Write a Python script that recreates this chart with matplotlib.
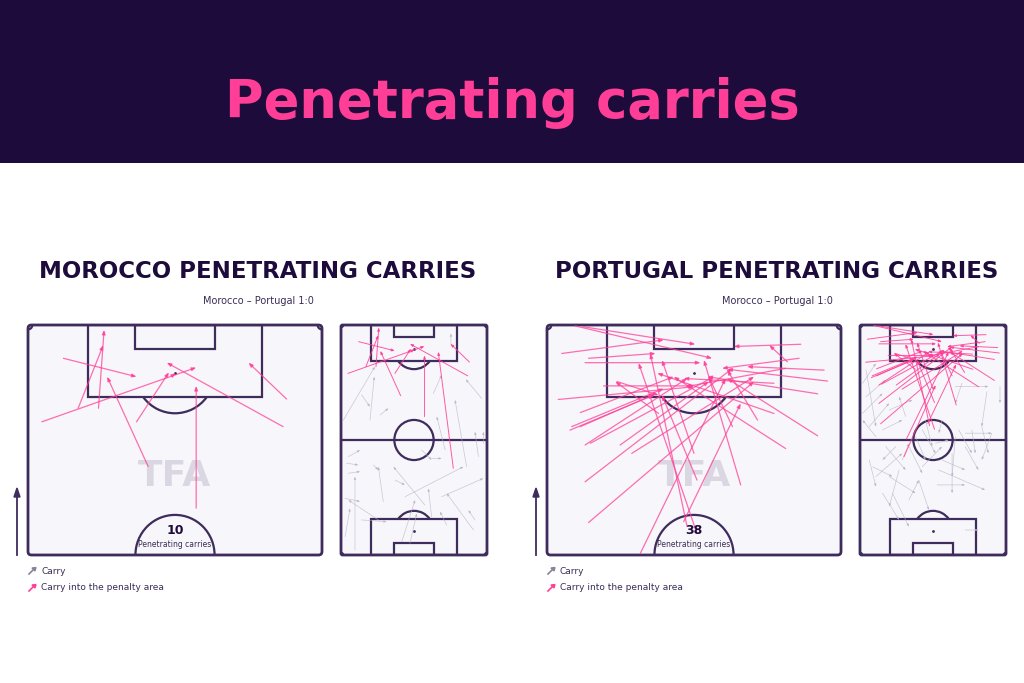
import matplotlib.pyplot as plt
from matplotlib.patches import Rectangle, Arc, FancyBboxPatch, Circle

W, H = 1024, 683
NAVY = '#1d0b3b'
PINK = '#ff3f97'
LINE = '#3e2c5c'
FACE = '#f7f6fa'
GREY = '#b8b2c6'

# carries in metres: (x_start, y_start, x_end, y_end), pitch 68 wide x 105 long, attacking upwards
mor_pen = [
    (8.2, 97.4, 25.1, 93.2), (11.6, 86.0, 17.4, 100.4), (16.3, 86.0, 17.6, 103.9),
    (3.2, 82.9, 38.9, 95.3), (27.8, 72.7, 18.3, 93.2), (25.1, 82.9, 32.6, 94.2),
    (59.0, 81.8, 32.1, 96.4), (59.8, 88.1, 51.0, 96.4), (38.9, 63.2, 38.9, 91.1),
    (33.6, 93.6, 34.2, 94.0), (52.3, 39.6, 45.3, 92.8),
]
mor_other = [
    (1.1, 61.6, 15.8, 86.0), (13.5, 61.6, 15.5, 81.4), (9.6, 73.1, 13.5, 67.7),
    (18.2, 63.9, 22.1, 67.0), (43.0, 73.8, 46.9, 82.2), (65.5, 71.5, 58.1, 80.2),
    (48.5, 47.9, 44.6, 63.2), (58.5, 40.3, 53.1, 70.8), (64.0, 44.9, 62.4, 56.3),
    (66.3, 51.0, 66.3, 56.3), (3.4, 44.9, 8.9, 47.9), (2.6, 41.9, 8.1, 41.1),
    (3.4, 37.3, 8.9, 38.1), (6.5, 2.3, 6.5, 35.8), (19.7, 24.4, 17.4, 40.3),
    (15.1, 41.1, 17.4, 38.8), (39.1, 22.8, 24.4, 40.3), (25.2, 34.2, 29.8, 32.0),
    (29.8, 26.6, 57.0, 40.3), (37.6, 47.9, 42.2, 43.4), (42.2, 44.1, 46.9, 44.1),
    (46.9, 26.6, 66.3, 35.0), (61.7, 11.4, 49.2, 28.2), (1.9, 25.9, 8.9, 24.4),
    (1.9, 8.4, 4.2, 21.3), (9.6, 16.0, 21.3, 15.2), (17.4, 16.0, 3.4, 25.1),
    (28.3, 6.1, 34.5, 25.1), (32.1, 5.3, 35.3, 19.0), (42.2, 17.5, 40.7, 30.4),
    (49.2, 13.7, 46.1, 19.8), (62.4, 16.0, 59.3, 20.5), (51.2, 95.9, 51.2, 101.2),
]
por_pen = [
    (8.4, 104.6, 34.3, 100.6), (3.4, 98.5, 27.0, 101.6), (9.6, 97.4, 25.1, 98.5),
    (8.8, 96.4, 35.5, 96.4), (6.5, 104.8, 38.2, 97.4), (58.7, 100.6, 43.2, 100.1),
    (55.6, 96.6, 51.4, 100.4), (58.3, 97.4, 40.5, 95.1), (64.9, 92.2, 41.7, 94.9),
    (62.6, 89.3, 37.1, 93.2), (55.2, 95.1, 32.0, 90.9), (62.6, 79.7, 41.7, 92.8),
    (2.6, 88.0, 34.0, 90.9), (13.1, 91.1, 34.0, 91.1), (5.7, 81.8, 27.0, 90.5),
    (7.7, 85.0, 29.3, 93.2), (5.3, 81.0, 24.7, 89.0), (8.8, 77.6, 32.4, 92.8),
    (10.0, 78.0, 38.6, 93.2), (16.9, 77.6, 37.4, 92.1), (19.6, 75.7, 47.9, 93.2),
    (8.8, 69.2, 42.9, 95.1), (9.6, 59.9, 47.9, 92.1), (21.6, 52.9, 41.3, 92.8),
    (31.6, 60.1, 44.8, 87.1), (34.7, 57.4, 21.2, 96.3), (32.4, 59.0, 23.9, 98.5),
    (44.8, 68.5, 36.3, 97.0), (55.2, 76.8, 29.3, 93.2), (52.5, 84.8, 25.5, 94.0),
    (42.9, 81.8, 37.4, 93.2), (48.7, 83.3, 41.7, 94.7), (25.8, 84.8, 15.8, 92.1),
    (34.0, 75.7, 26.6, 97.0), (34.7, 69.6, 26.6, 89.0), (7.7, 81.8, 25.1, 89.3),
    (16.2, 92.1, 25.8, 89.0), (52.5, 91.7, 31.6, 92.8), (64.1, 94.7, 46.3, 95.5),
    (20.5, 44.9, 35.2, 77.6),
]
por_other = [
    (1.2, 78.4, 7.4, 87.5), (2.8, 72.3, 12.0, 79.9), (1.2, 64.7, 10.5, 73.8),
    (4.3, 58.6, 13.6, 69.3), (7.4, 54.0, 1.2, 61.6), (10.5, 57.1, 19.7, 61.6),
    (13.6, 66.2, 24.4, 70.8), (21.3, 63.2, 18.2, 72.3), (44.4, 76.9, 59.8, 76.9),
    (47.5, 78.4, 44.4, 69.3), (59.1, 74.6, 56.7, 58.6), (65.2, 76.9, 65.2, 69.3),
    (46.0, 57.1, 52.1, 46.4), (49.0, 55.6, 61.4, 55.6), (52.1, 57.1, 53.7, 46.4),
    (56.7, 58.6, 59.8, 46.4), (44.4, 54.0, 42.9, 35.8), (38.2, 43.4, 49.0, 38.8),
    (25.9, 54.0, 30.5, 43.4), (29.0, 57.1, 35.2, 46.4), (22.8, 49.5, 29.0, 37.3),
    (35.2, 51.0, 41.3, 52.5), (12.0, 49.5, 21.3, 38.8), (5.9, 40.3, 15.1, 35.8),
    (7.4, 35.8, 19.7, 46.4), (13.6, 35.8, 25.9, 28.2), (15.1, 28.2, 22.8, 12.9),
    (10.5, 28.2, 18.2, 16.0), (22.8, 25.1, 27.4, 34.2), (27.4, 34.2, 32.1, 20.5),
    (35.9, 32.0, 49.0, 32.0), (42.9, 46.4, 42.9, 28.2), (36.7, 38.8, 58.3, 29.7),
    (49.0, 11.4, 55.2, 11.4), (4.3, 43.4, 7.4, 31.2), (18.2, 38.8, 13.6, 22.1),
    (30.5, 61.6, 33.6, 49.5), (38.2, 61.6, 36.7, 55.6), (2.8, 84.5, 7.4, 58.6),
    (61.4, 55.6, 56.7, 43.4), (49.0, 49.5, 55.2, 38.8), (19.7, 43.4, 22.8, 51.0),
    (29.0, 40.3, 38.2, 49.5), (16.7, 49.5, 10.5, 43.4),
]

teams = ['MOROCCO', 'PORTUGAL']
counts = [10, 38]
match = 'Morocco – Portugal 1:0'


def px_axes(fig, x0, y0, x1, y1):
    return fig.add_axes([x0 / W, 1 - y1 / H, (x1 - x0) / W, (y1 - y0) / H])


def draw_pitch(ax, half):
    ymin = 52.5 if half else 0
    ax.set_xlim(0, 68)
    ax.set_ylim(ymin, 105)
    ax.axis('off')
    lw = 1.6
    ax.add_patch(FancyBboxPatch((0, ymin), 68, 105 - ymin, boxstyle='round,pad=0,rounding_size=0.8',
                                fc=FACE, ec=LINE, lw=lw + 0.4, clip_on=False, zorder=0))
    ends = [105] if half else [105, 0]
    for e in ends:
        s = -1 if e == 105 else 1
        ax.add_patch(Rectangle((13.84, e), 40.32, 16.5 * s, fill=False, ec=LINE, lw=lw, zorder=1))
        ax.add_patch(Rectangle((24.84, e), 18.32, 5.5 * s, fill=False, ec=LINE, lw=lw, zorder=1))
        spot = e + 11 * s
        t1, t2 = (216.9, 323.1) if s < 0 else (36.9, 143.1)
        ax.add_patch(Arc((34, spot), 18.3, 18.3, theta1=t1, theta2=t2, ec=LINE, lw=lw, zorder=1))
        ax.plot(34, spot, 'o', ms=1, color=LINE, zorder=1)
        ax.add_patch(Arc((0, e), 2, 2, theta1=270 if s < 0 else 0, theta2=360 if s < 0 else 90,
                         ec=LINE, lw=lw, zorder=1))
        ax.add_patch(Arc((68, e), 2, 2, theta1=180 if s < 0 else 90, theta2=270 if s < 0 else 180,
                         ec=LINE, lw=lw, zorder=1))
    if half:
        ax.add_patch(Arc((34, 52.5), 18.3, 18.3, theta1=0, theta2=180, ec=LINE, lw=lw, zorder=1))
    else:
        ax.plot([0, 68], [52.5, 52.5], color=LINE, lw=lw, zorder=1)
        ax.add_patch(Circle((34, 52.5), 9.15, fill=False, ec=LINE, lw=lw, zorder=1))


def draw_carries(ax, carries, color, alpha, lw, head, zorder, min_y=None):
    for x0, y0, x1, y1 in carries:
        if min_y is not None and y0 < min_y:
            continue
        ax.annotate('', xy=(x1, y1), xytext=(x0, y0), zorder=zorder,
                    arrowprops=dict(arrowstyle='-|>,head_length=%.2f,head_width=%.2f' % (head, head * 0.4),
                                    color=color, alpha=alpha, lw=lw, shrinkA=0, shrinkB=0))


fig = plt.figure(figsize=(W / 100, H / 100), dpi=100)
fig.patch.set_facecolor('white')
fig.add_artist(Rectangle((0, 1 - 163 / H), 1, 163 / H, transform=fig.transFigure, fc=NAVY, ec='none'))
fig.text(0.5, 1 - 103 / H, 'Penetrating carries', ha='center', va='center', color=PINK,
         fontsize=38, fontweight='bold', family='DejaVu Sans')

for i, (team, pen, other) in enumerate([(teams[0], mor_pen, mor_other), (teams[1], por_pen, por_other)]):
    dx = 519 * i
    cx = 258 + dx
    fig.text(cx / W, 1 - 271 / H, team + ' PENETRATING CARRIES', ha='center', va='center',
             color=NAVY, fontsize=16.5, fontweight='heavy', family='DejaVu Sans')
    fig.text(cx / W, 1 - 301 / H, match, ha='center', va='center', color='#3a2d55', fontsize=7)

    ax = px_axes(fig, 28 + dx, 325, 322 + dx, 555)
    draw_pitch(ax, True)
    ax.text(34, 70.5, 'TFA', ha='center', va='center', fontsize=26, fontweight='heavy',
            color='#dad7e2', zorder=1)
    draw_carries(ax, pen, PINK, 0.75, 0.9, 0.25, 3, min_y=52.5)
    ax.text(34, 58.0, str(counts[i]), ha='center', va='center', fontsize=9, fontweight='bold',
            color=NAVY, zorder=4)
    ax.text(34, 54.8, 'Penetrating carries', ha='center', va='center', fontsize=5.5,
            color='#3a2d55', zorder=4)

    ax2 = px_axes(fig, 341 + dx, 325, 487 + dx, 555)
    draw_pitch(ax2, False)
    draw_carries(ax2, other, GREY, 0.7, 0.5, 0.15, 2)
    draw_carries(ax2, pen, PINK, 0.85, 0.7, 0.18, 3)

    # attacking direction
    fig.add_artist(plt.Line2D([(17 + dx) / W] * 2, [1 - 555 / H, 1 - 494 / H], color=LINE, lw=1.3))
    fig.add_artist(plt.Polygon([[(14 + dx) / W, 1 - 497 / H], [(20 + dx) / W, 1 - 497 / H],
                                [(17 + dx) / W, 1 - 488 / H]], color=LINE, transform=fig.transFigure))

    # legend
    for yy, col, lab in [(571, '#8a8299', 'Carry'), (588, PINK, 'Carry into the penalty area')]:
        fig.add_artist(plt.Line2D([(29 + dx) / W, (34 + dx) / W], [1 - (yy + 3) / H, 1 - (yy - 2) / H],
                                  color=col, lw=1.2))
        fig.add_artist(plt.Polygon([[(32 + dx) / W, 1 - (yy - 3) / H], [(36 + dx) / W, 1 - (yy - 3.5) / H],
                                    [(35 + dx) / W, 1 - yy / H]], color=col, transform=fig.transFigure))
        fig.text((41 + dx) / W, 1 - yy / H, lab, ha='left', va='center', color='#3a2d55', fontsize=6.5)

fig.savefig('out.png', dpi=100, facecolor='white')
